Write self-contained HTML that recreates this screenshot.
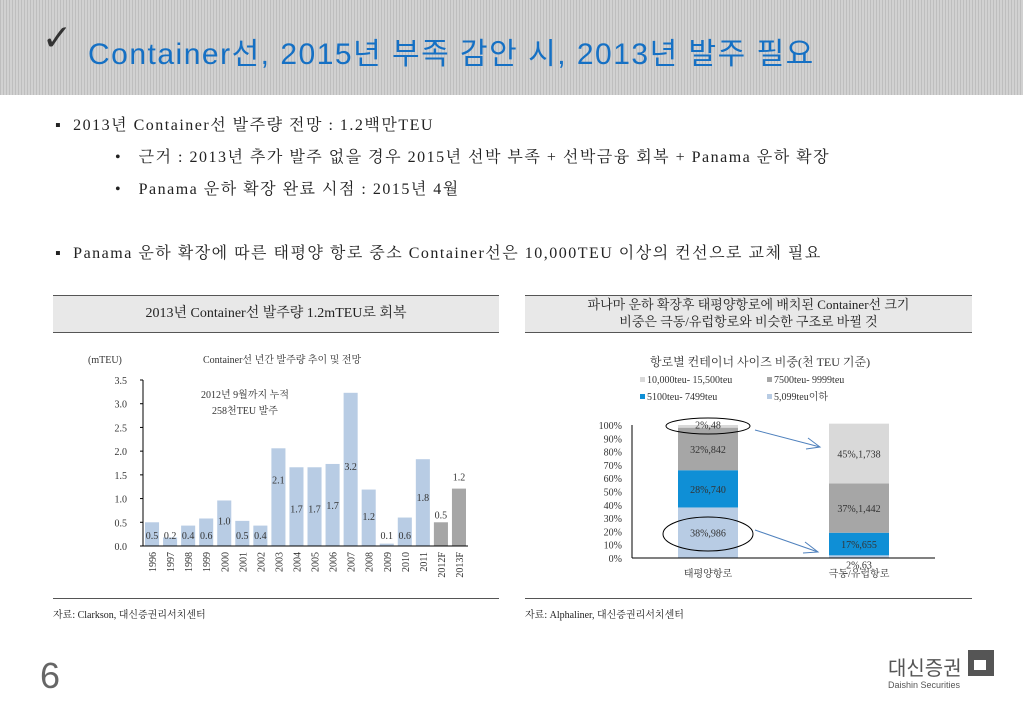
<!DOCTYPE html>
<html><head><meta charset="utf-8">
<style>
body{margin:0;width:1023px;height:708px;background:#fff;position:relative;overflow:hidden;font-family:"Liberation Serif","Noto Serif CJK SC","Noto Sans CJK KR",serif;color:#222}
.hdr{position:absolute;left:0;top:0;width:1023px;height:95px;background:#e2e2e2;background-image:repeating-linear-gradient(90deg,#d6d6d6 0 1px,#ececec 1px 3px),repeating-linear-gradient(0deg,rgba(255,255,255,.3) 0 2px,rgba(0,0,0,0) 2px 4px);background-blend-mode:multiply}
.title{position:absolute;left:88px;top:29px;font:30px "Liberation Sans","Noto Sans CJK KR",sans-serif;color:#1570c4;letter-spacing:1.5px}
.check{position:absolute;left:42px;top:18px;font:36px "DejaVu Sans",sans-serif;color:#333}
.t{position:absolute;font-size:16px;letter-spacing:1.5px;white-space:nowrap}
.box{position:absolute;border-top:1px solid #555;border-bottom:1px solid #555;background:#e8e8e8;text-align:center;font-size:14px}
.src{position:absolute;font-size:10px;top:606px}
</style></head><body>
<div class="hdr"></div>
<div class="check">✓</div>
<div class="title">Container선, 2015년 부족 감안 시, 2013년 발주 필요</div>
<div class="t" style="left:55px;top:112px">▪&nbsp; 2013년 Container선 발주량 전망 : 1.2백만TEU</div>
<div class="t" style="left:115px;top:144px">•&nbsp;&nbsp; 근거 : 2013년 추가 발주 없을 경우 2015년 선박 부족 + 선박금융 회복 + Panama 운하 확장</div>
<div class="t" style="left:115px;top:176px">•&nbsp;&nbsp; Panama 운하 확장 완료 시점 : 2015년 4월</div>
<div class="t" style="left:55px;top:240px">▪&nbsp; Panama 운하 확장에 따른 태평양 항로 중소 Container선은 10,000TEU 이상의 컨선으로 교체 필요</div>
<div class="box" style="left:53px;top:295px;width:446px;height:36px;line-height:36px">2013년 Container선 발주량 1.2mTEU로 회복</div>
<div class="box" style="left:525px;top:295px;width:447px;height:36px;line-height:17px;font-size:13px">파나마 운하 확장후 태평양항로에 배치된 Container선 크기<br>비중은 극동/유럽항로와 비슷한 구조로 바뀔 것</div>
<div style="position:absolute;left:53px;top:598px;width:446px;border-top:1px solid #555"></div>
<div style="position:absolute;left:525px;top:598px;width:447px;border-top:1px solid #555"></div>
<div class="src" style="left:53px">자료: Clarkson, 대신증권리서치센터</div>
<div class="src" style="left:525px">자료: Alphaliner, 대신증권리서치센터</div>
<div style="position:absolute;left:40px;top:655px;font:36px 'Liberation Sans',sans-serif;color:#666">6</div>
<div style="position:absolute;left:888px;top:652px;font:20px 'Noto Sans CJK KR',sans-serif;color:#555">대신증권</div>
<div style="position:absolute;left:888px;top:680px;font:9px 'Liberation Sans',sans-serif;color:#555">Daishin Securities</div>
<div style="position:absolute;left:968px;top:650px;width:26px;height:26px;background:#555"><div style="position:absolute;left:6px;top:10px;width:12px;height:10px;background:#fff"></div></div>

<svg id="c1" style="position:absolute;left:0;top:0" width="1023" height="708"></svg>
<script>
const years=["1996","1997","1998","1999","2000","2001","2002","2003","2004","2005","2006","2007","2008","2009","2010","2011","2012F","2013F"];
const orders=[0.5,0.2,0.4,0.6,1.0,0.5,0.4,2.1,1.7,1.7,1.7,3.2,1.2,0.1,0.6,1.8,0.5,1.2];
const orderHeights=[0.5,0.18,0.43,0.58,0.96,0.53,0.43,2.06,1.66,1.66,1.73,3.23,1.19,0.05,0.6,1.83,0.5,1.21];
const yTicks=[0,0.5,1.0,1.5,2.0,2.5,3.0,3.5];
const routes=["태평양항로","극동/유럽항로"];
const segNames=["5,099teu이하","5100teu- 7499teu","7500teu- 9999teu","10,000teu- 15,500teu"];
const segPct=[[38,28,32,2],[2,17,37,45]];
const segLbl=[["38%,986","28%,740","32%,842","2%,48"],["2%,63","17%,655","37%,1,442","45%,1,738"]];
const segCol=["#b8cce4","#0f8fd6","#a6a6a6","#d9d9d9"];
const pctTicks=[0,10,20,30,40,50,60,70,80,90,100];

const svg=document.getElementById('c1');const NS='http://www.w3.org/2000/svg';
function mk(t,a,txt){const e=document.createElementNS(NS,t);for(const k in a)e.setAttribute(k,a[k]);if(txt!=null)e.textContent=txt;svg.appendChild(e);return e;}
const F='"Liberation Serif","Noto Serif CJK SC",serif';
const x0=143,x1=468,y0=546,yTop=380,ymax=3.5;
const ys=v=>y0-(v/ymax)*(y0-yTop);
const slot=(x1-x0)/years.length;
let e=mk('text',{x:88,y:363,'font-size':10,'font-family':F,fill:'#333'},'(mTEU)');

e=mk('text',{x:203,y:363,'font-size':10,'font-family':F,fill:'#333'},'Container선 년간 발주량 추이 및 전망');

yTicks.forEach(v=>{const t=mk('text',{x:127,y:ys(v)+4,'font-size':10,'font-family':F,fill:'#333','text-anchor':'end'},v.toFixed(1));

mk('line',{x1:x0-3,x2:x0,y1:ys(v),y2:ys(v),stroke:'#000'});});
orders.forEach((v,i)=>{const h=orderHeights[i];const bx=x0+i*slot+2;const bw=slot-4;
const r=mk('rect',{x:bx,y:ys(h),width:bw,height:y0-ys(h),fill:i>=16?'#a6a6a6':'#b8cce4'});

let ly=i>=16?(i==17?ys(h)-8:ys(h)-4):(v>=2?ys(h)+35:(v>=1.5?ys(h)+45:y0-7));
if(i==11)ly=ys(1.6);if(i==12)ly=ys(0.55);if(i==15)ly=ys(0.95);if(i==4)ly=ys(0.45);
const t=mk('text',{x:bx+bw/2,y:ly,'font-size':10,'font-family':F,fill:'#333','text-anchor':'middle'},v.toFixed(1));

const yl=mk('text',{x:0,y:0,'font-size':10,'font-family':F,fill:'#333','text-anchor':'end',transform:`translate(${bx+bw/2+4},552) rotate(-90)`},years[i]);
});
mk('line',{x1:x0,x2:x0,y1:yTop,y2:y0,stroke:'#000'});mk('line',{x1:x0,x2:x1,y1:y0,y2:y0,stroke:'#000'});
e=mk('text',{x:245,y:398,'font-size':10,'font-family':F,fill:'#333','text-anchor':'middle'},'2012년 9월까지 누적');

e=mk('text',{x:245,y:414,'font-size':10,'font-family':F,fill:'#333','text-anchor':'middle'},'258천TEU 발주');

const rx0=632,rx1=935,ry0=558,ryT=425;
const py=p=>ry0-p/100*(ry0-ryT);
e=mk('text',{x:760,y:366,'font-size':12,'font-family':F,fill:'#333','text-anchor':'middle'},'항로별 컨테이너 사이즈 비중(천 TEU 기준)');

const legPos=[[767,400],[640,400],[767,383],[640,383]];
segNames.forEach((n,i)=>{const [lx,ly]=legPos[i];const r=mk('rect',{x:lx,y:ly-6,width:5,height:5,fill:segCol[i]});

const t=mk('text',{x:lx+7,y:ly,'font-size':10,'font-family':F,fill:'#333'},n);
});
pctTicks.forEach(p=>{const t=mk('text',{x:622,y:py(p)+4,'font-size':10,'font-family':F,fill:'#333','text-anchor':'end'},p+'%');
});
const bxs=[678,829];
routes.forEach((rn,j)=>{let acc=0;segPct[j].forEach((p,k)=>{
const r=mk('rect',{x:bxs[j],y:py(acc+p),width:60,height:py(acc)-py(acc+p),fill:segCol[k]});

const t=mk('text',{x:bxs[j]+30,y:(py(acc)+py(acc+p))/2+(p<5?(j==1?12:2):4),'font-size':10,'font-family':F,fill:'#333','text-anchor':'middle'},segLbl[j][k]);
acc+=p;});
const t=mk('text',{x:bxs[j]+30,y:577,'font-size':10,'font-family':F,fill:'#333','text-anchor':'middle'},rn);
});
mk('line',{x1:rx0,x2:rx0,y1:ryT,y2:ry0,stroke:'#000'});mk('line',{x1:rx0,x2:rx1,y1:ry0,y2:ry0,stroke:'#000'});
mk('ellipse',{cx:708,cy:426,rx:42,ry:8,fill:'none',stroke:'#000'});
mk('ellipse',{cx:708,cy:534,rx:45,ry:17,fill:'none',stroke:'#000'});
mk('line',{x1:755,y1:430,x2:820,y2:447,stroke:'#4f81bd'});mk('polyline',{points:'808,438 820,447 806,449',fill:'none',stroke:'#4f81bd'});
mk('line',{x1:755,y1:530,x2:818,y2:552,stroke:'#4f81bd'});mk('polyline',{points:'805,542 818,552 803,553',fill:'none',stroke:'#4f81bd'});
</script>
</body></html>
